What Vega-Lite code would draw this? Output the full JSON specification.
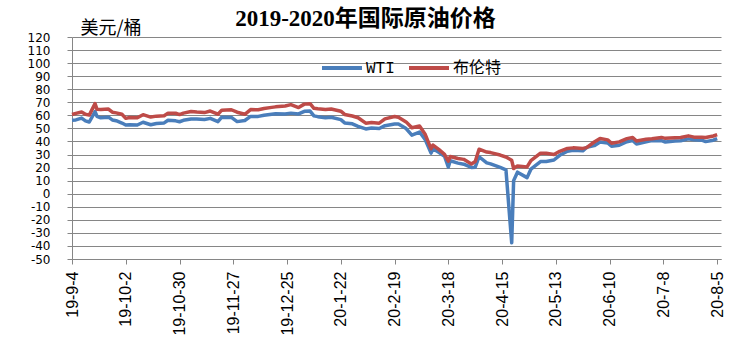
{
  "$schema": "https://vega.github.io/schema/vega-lite/v6.json",
  "autosize": {"type": "none"},
  "width": 649,
  "height": 222,
  "padding": {"left": 72, "top": 37, "right": 20, "bottom": 90},
  "background": "white",
  "title": {
    "text": "2019-2020年国际原油价格",
    "anchor": "middle",
    "dx": -31,
    "font": "Liberation Serif, Noto Sans CJK SC",
    "fontSize": 23,
    "fontWeight": "bold",
    "color": "#000000",
    "baseline": "alphabetic",
    "offset": -30
  },
  "config": {
    "view": {"stroke": null},
    "axis": {"domainColor": "#868686", "tickColor": "#868686", "gridColor": "#868686", "labelColor": "#000000"}
  },
  "data": {
    "values": [
      {"d":"2019-09-04","s":"WTI","p":56.3},{"d":"2019-09-04","s":"布伦特","p":60.7},
      {"d":"2019-09-06","s":"WTI","p":56.5},{"d":"2019-09-06","s":"布伦特","p":61.5},
      {"d":"2019-09-09","s":"WTI","p":57.9},{"d":"2019-09-09","s":"布伦特","p":62.6},
      {"d":"2019-09-11","s":"WTI","p":55.8},{"d":"2019-09-11","s":"布伦特","p":60.8},
      {"d":"2019-09-13","s":"WTI","p":54.9},{"d":"2019-09-13","s":"布伦特","p":60.2},
      {"d":"2019-09-16","s":"WTI","p":62.9},{"d":"2019-09-16","s":"布伦特","p":69.0},
      {"d":"2019-09-17","s":"WTI","p":59.3},{"d":"2019-09-17","s":"布伦特","p":64.6},
      {"d":"2019-09-19","s":"WTI","p":58.1},{"d":"2019-09-19","s":"布伦特","p":64.4},
      {"d":"2019-09-23","s":"WTI","p":58.6},{"d":"2019-09-23","s":"布伦特","p":64.8},
      {"d":"2019-09-25","s":"WTI","p":56.5},{"d":"2019-09-25","s":"布伦特","p":62.4},
      {"d":"2019-09-27","s":"WTI","p":55.9},{"d":"2019-09-27","s":"布伦特","p":61.9},
      {"d":"2019-09-30","s":"WTI","p":54.1},{"d":"2019-09-30","s":"布伦特","p":60.8},
      {"d":"2019-10-02","s":"WTI","p":52.6},{"d":"2019-10-02","s":"布伦特","p":57.7},
      {"d":"2019-10-04","s":"WTI","p":52.8},{"d":"2019-10-04","s":"布伦特","p":58.4},
      {"d":"2019-10-08","s":"WTI","p":52.6},{"d":"2019-10-08","s":"布伦特","p":58.2},
      {"d":"2019-10-11","s":"WTI","p":54.7},{"d":"2019-10-11","s":"布伦特","p":60.5},
      {"d":"2019-10-15","s":"WTI","p":52.8},{"d":"2019-10-15","s":"布伦特","p":58.7},
      {"d":"2019-10-18","s":"WTI","p":53.8},{"d":"2019-10-18","s":"布伦特","p":59.4},
      {"d":"2019-10-22","s":"WTI","p":54.2},{"d":"2019-10-22","s":"布伦特","p":59.7},
      {"d":"2019-10-24","s":"WTI","p":56.2},{"d":"2019-10-24","s":"布伦特","p":61.7},
      {"d":"2019-10-28","s":"WTI","p":55.8},{"d":"2019-10-28","s":"布伦特","p":61.6},
      {"d":"2019-10-30","s":"WTI","p":55.1},{"d":"2019-10-30","s":"布伦特","p":60.6},
      {"d":"2019-11-01","s":"WTI","p":56.2},{"d":"2019-11-01","s":"布伦特","p":61.7},
      {"d":"2019-11-05","s":"WTI","p":57.2},{"d":"2019-11-05","s":"布伦特","p":63.0},
      {"d":"2019-11-08","s":"WTI","p":57.2},{"d":"2019-11-08","s":"布伦特","p":62.5},
      {"d":"2019-11-12","s":"WTI","p":56.8},{"d":"2019-11-12","s":"布伦特","p":62.1},
      {"d":"2019-11-15","s":"WTI","p":57.7},{"d":"2019-11-15","s":"布伦特","p":63.3},
      {"d":"2019-11-19","s":"WTI","p":55.2},{"d":"2019-11-19","s":"布伦特","p":60.9},
      {"d":"2019-11-21","s":"WTI","p":58.6},{"d":"2019-11-21","s":"布伦特","p":64.0},
      {"d":"2019-11-26","s":"WTI","p":58.4},{"d":"2019-11-26","s":"布伦特","p":64.3},
      {"d":"2019-11-29","s":"WTI","p":55.2},{"d":"2019-11-29","s":"布伦特","p":62.4},
      {"d":"2019-12-03","s":"WTI","p":56.1},{"d":"2019-12-03","s":"布伦特","p":60.8},
      {"d":"2019-12-06","s":"WTI","p":59.2},{"d":"2019-12-06","s":"布伦特","p":64.4},
      {"d":"2019-12-10","s":"WTI","p":59.2},{"d":"2019-12-10","s":"布伦特","p":64.3},
      {"d":"2019-12-13","s":"WTI","p":60.1},{"d":"2019-12-13","s":"布伦特","p":65.2},
      {"d":"2019-12-17","s":"WTI","p":60.9},{"d":"2019-12-17","s":"布伦特","p":66.1},
      {"d":"2019-12-19","s":"WTI","p":61.2},{"d":"2019-12-19","s":"布伦特","p":66.5},
      {"d":"2019-12-24","s":"WTI","p":61.1},{"d":"2019-12-24","s":"布伦特","p":67.2},
      {"d":"2019-12-27","s":"WTI","p":61.7},{"d":"2019-12-27","s":"布伦特","p":68.2},
      {"d":"2019-12-31","s":"WTI","p":61.1},{"d":"2019-12-31","s":"布伦特","p":66.0},
      {"d":"2020-01-03","s":"WTI","p":63.1},{"d":"2020-01-03","s":"布伦特","p":68.6},
      {"d":"2020-01-06","s":"WTI","p":63.3},{"d":"2020-01-06","s":"布伦特","p":68.9},
      {"d":"2020-01-08","s":"WTI","p":59.6},{"d":"2020-01-08","s":"布伦特","p":65.4},
      {"d":"2020-01-10","s":"WTI","p":59.0},{"d":"2020-01-10","s":"布伦特","p":65.0},
      {"d":"2020-01-14","s":"WTI","p":58.2},{"d":"2020-01-14","s":"布伦特","p":64.5},
      {"d":"2020-01-17","s":"WTI","p":58.5},{"d":"2020-01-17","s":"布伦特","p":64.9},
      {"d":"2020-01-22","s":"WTI","p":56.7},{"d":"2020-01-22","s":"布伦特","p":63.2},
      {"d":"2020-01-24","s":"WTI","p":54.2},{"d":"2020-01-24","s":"布伦特","p":60.7},
      {"d":"2020-01-28","s":"WTI","p":53.5},{"d":"2020-01-28","s":"布伦特","p":59.5},
      {"d":"2020-01-31","s":"WTI","p":51.6},{"d":"2020-01-31","s":"布伦特","p":58.2},
      {"d":"2020-02-04","s":"WTI","p":49.6},{"d":"2020-02-04","s":"布伦特","p":54.0},
      {"d":"2020-02-07","s":"WTI","p":50.3},{"d":"2020-02-07","s":"布伦特","p":54.5},
      {"d":"2020-02-11","s":"WTI","p":49.9},{"d":"2020-02-11","s":"布伦特","p":54.0},
      {"d":"2020-02-14","s":"WTI","p":52.1},{"d":"2020-02-14","s":"布伦特","p":57.3},
      {"d":"2020-02-19","s":"WTI","p":53.3},{"d":"2020-02-19","s":"布伦特","p":59.1},
      {"d":"2020-02-21","s":"WTI","p":53.4},{"d":"2020-02-21","s":"布伦特","p":58.5},
      {"d":"2020-02-25","s":"WTI","p":49.9},{"d":"2020-02-25","s":"布伦特","p":55.0},
      {"d":"2020-02-28","s":"WTI","p":44.8},{"d":"2020-02-28","s":"布伦特","p":50.5},
      {"d":"2020-03-03","s":"WTI","p":47.2},{"d":"2020-03-03","s":"布伦特","p":51.9},
      {"d":"2020-03-06","s":"WTI","p":41.3},{"d":"2020-03-06","s":"布伦特","p":45.3},
      {"d":"2020-03-09","s":"WTI","p":31.1},{"d":"2020-03-09","s":"布伦特","p":34.4},
      {"d":"2020-03-10","s":"WTI","p":34.4},{"d":"2020-03-10","s":"布伦特","p":37.2},
      {"d":"2020-03-13","s":"WTI","p":31.7},{"d":"2020-03-13","s":"布伦特","p":33.9},
      {"d":"2020-03-16","s":"WTI","p":28.7},{"d":"2020-03-16","s":"布伦特","p":30.1},
      {"d":"2020-03-18","s":"WTI","p":20.4},{"d":"2020-03-18","s":"布伦特","p":24.9},
      {"d":"2020-03-19","s":"WTI","p":25.2},{"d":"2020-03-19","s":"布伦特","p":28.5},
      {"d":"2020-03-23","s":"WTI","p":23.4},{"d":"2020-03-23","s":"布伦特","p":27.0},
      {"d":"2020-03-26","s":"WTI","p":22.6},{"d":"2020-03-26","s":"布伦特","p":26.3},
      {"d":"2020-03-30","s":"WTI","p":20.1},{"d":"2020-03-30","s":"布伦特","p":22.8},
      {"d":"2020-04-01","s":"WTI","p":20.3},{"d":"2020-04-01","s":"布伦特","p":24.7},
      {"d":"2020-04-03","s":"WTI","p":28.3},{"d":"2020-04-03","s":"布伦特","p":34.1},
      {"d":"2020-04-07","s":"WTI","p":23.6},{"d":"2020-04-07","s":"布伦特","p":31.9},
      {"d":"2020-04-09","s":"WTI","p":22.8},{"d":"2020-04-09","s":"布伦特","p":31.5},
      {"d":"2020-04-14","s":"WTI","p":20.1},{"d":"2020-04-14","s":"布伦特","p":29.6},
      {"d":"2020-04-17","s":"WTI","p":18.3},{"d":"2020-04-17","s":"布伦特","p":28.1},
      {"d":"2020-04-20","s":"WTI","p":-37.6},{"d":"2020-04-20","s":"布伦特","p":25.6},
      {"d":"2020-04-21","s":"WTI","p":10.0},{"d":"2020-04-21","s":"布伦特","p":19.3},
      {"d":"2020-04-23","s":"WTI","p":16.5},{"d":"2020-04-23","s":"布伦特","p":21.3},
      {"d":"2020-04-28","s":"WTI","p":12.3},{"d":"2020-04-28","s":"布伦特","p":20.5},
      {"d":"2020-04-30","s":"WTI","p":18.8},{"d":"2020-04-30","s":"布伦特","p":25.3},
      {"d":"2020-05-05","s":"WTI","p":24.6},{"d":"2020-05-05","s":"布伦特","p":31.0},
      {"d":"2020-05-08","s":"WTI","p":24.7},{"d":"2020-05-08","s":"布伦特","p":31.0},
      {"d":"2020-05-12","s":"WTI","p":25.8},{"d":"2020-05-12","s":"布伦特","p":30.0},
      {"d":"2020-05-15","s":"WTI","p":29.4},{"d":"2020-05-15","s":"布伦特","p":32.5},
      {"d":"2020-05-19","s":"WTI","p":32.5},{"d":"2020-05-19","s":"布伦特","p":34.7},
      {"d":"2020-05-22","s":"WTI","p":33.3},{"d":"2020-05-22","s":"布伦特","p":35.1},
      {"d":"2020-05-27","s":"WTI","p":32.8},{"d":"2020-05-27","s":"布伦特","p":34.7},
      {"d":"2020-05-29","s":"WTI","p":35.5},{"d":"2020-05-29","s":"布伦特","p":35.3},
      {"d":"2020-06-02","s":"WTI","p":36.8},{"d":"2020-06-02","s":"布伦特","p":39.6},
      {"d":"2020-06-05","s":"WTI","p":39.6},{"d":"2020-06-05","s":"布伦特","p":42.3},
      {"d":"2020-06-09","s":"WTI","p":38.9},{"d":"2020-06-09","s":"布伦特","p":41.2},
      {"d":"2020-06-11","s":"WTI","p":36.3},{"d":"2020-06-11","s":"布伦特","p":38.6},
      {"d":"2020-06-15","s":"WTI","p":37.1},{"d":"2020-06-15","s":"布伦特","p":39.7},
      {"d":"2020-06-19","s":"WTI","p":39.8},{"d":"2020-06-19","s":"布伦特","p":42.2},
      {"d":"2020-06-22","s":"WTI","p":40.7},{"d":"2020-06-22","s":"布伦特","p":43.1},
      {"d":"2020-06-24","s":"WTI","p":38.0},{"d":"2020-06-24","s":"布伦特","p":40.3},
      {"d":"2020-06-29","s":"WTI","p":39.7},{"d":"2020-06-29","s":"布伦特","p":41.7},
      {"d":"2020-07-02","s":"WTI","p":40.7},{"d":"2020-07-02","s":"布伦特","p":42.1},
      {"d":"2020-07-07","s":"WTI","p":40.6},{"d":"2020-07-07","s":"布伦特","p":43.1},
      {"d":"2020-07-09","s":"WTI","p":39.6},{"d":"2020-07-09","s":"布伦特","p":42.4},
      {"d":"2020-07-14","s":"WTI","p":40.3},{"d":"2020-07-14","s":"布伦特","p":42.9},
      {"d":"2020-07-17","s":"WTI","p":40.6},{"d":"2020-07-17","s":"布伦特","p":43.1},
      {"d":"2020-07-21","s":"WTI","p":42.0},{"d":"2020-07-21","s":"布伦特","p":44.3},
      {"d":"2020-07-24","s":"WTI","p":41.3},{"d":"2020-07-24","s":"布伦特","p":43.3},
      {"d":"2020-07-28","s":"WTI","p":41.0},{"d":"2020-07-28","s":"布伦特","p":43.2},
      {"d":"2020-07-30","s":"WTI","p":39.9},{"d":"2020-07-30","s":"布伦特","p":43.0},
      {"d":"2020-08-03","s":"WTI","p":41.0},{"d":"2020-08-03","s":"布伦特","p":44.2},
      {"d":"2020-08-05","s":"WTI","p":42.2},{"d":"2020-08-05","s":"布伦特","p":45.2}
    ]
  },
  "mark": {"type": "line", "strokeWidth": 3.5, "strokeJoin": "round", "clip": false},
  "encoding": {
    "x": {
      "field": "d",
      "type": "temporal",
      "scale": {
        "type": "utc",
        "domain": [{"year": 2019, "month": 9, "date": 4, "utc": true}, {"year": 2020, "month": 8, "date": 7, "utc": true}],
        "nice": false
      },
      "axis": {
        "title": null,
        "grid": false,
        "values": [
          {"year": 2019, "month": 9, "date": 4, "utc": true},
          {"year": 2019, "month": 10, "date": 2, "utc": true},
          {"year": 2019, "month": 10, "date": 30, "utc": true},
          {"year": 2019, "month": 11, "date": 27, "utc": true},
          {"year": 2019, "month": 12, "date": 25, "utc": true},
          {"year": 2020, "month": 1, "date": 22, "utc": true},
          {"year": 2020, "month": 2, "date": 19, "utc": true},
          {"year": 2020, "month": 3, "date": 18, "utc": true},
          {"year": 2020, "month": 4, "date": 15, "utc": true},
          {"year": 2020, "month": 5, "date": 13, "utc": true},
          {"year": 2020, "month": 6, "date": 10, "utc": true},
          {"year": 2020, "month": 7, "date": 8, "utc": true},
          {"year": 2020, "month": 8, "date": 5, "utc": true}
        ],
        "labelExpr": "utcFormat(datum.value, '%y-%-m-%-d')",
        "labelAngle": -90,
        "labelFont": "Liberation Sans",
        "labelFontSize": 16,
        "labelOverlap": false,
        "labelFlush": false,
        "tickSize": 5,
        "labelPadding": 7,
        "domainColor": "#868686"
      }
    },
    "y": {
      "field": "p",
      "type": "quantitative",
      "scale": {"domain": [-50, 120], "nice": false, "zero": false},
      "axis": {
        "values": [-50, -40, -30, -20, -10, 0, 10, 20, 30, 40, 50, 60, 70, 80, 90, 100, 110, 120],
        "labelExpr": "'' + datum.value",
        "labelFont": "DejaVu Sans",
        "labelFontSize": 12,
        "labelOverlap": false,
        "labelFlush": false,
        "tickSize": 5,
        "labelPadding": 17,
        "grid": true,
        "gridColor": "#868686",
        "gridWidth": 1,
        "title": "美元/桶",
        "titleAngle": 0,
        "titleAlign": "left",
        "titleBaseline": "middle",
        "titleX": 8,
        "titleY": -9,
        "titleFont": "Noto Sans CJK SC",
        "titleFontSize": 18,
        "titleFontWeight": "normal",
        "titleColor": "#000000"
      }
    },
    "color": {
      "field": "s",
      "type": "nominal",
      "scale": {"domain": ["WTI", "布伦特"], "range": ["#4A7EBB", "#BE4B48"]},
      "legend": {
        "title": null,
        "orient": "none",
        "direction": "horizontal",
        "legendX": 248,
        "legendY": 9,
        "symbolType": "stroke",
        "symbolSize": 1600,
        "symbolStrokeWidth": 4,
        "labelFont": "Liberation Mono, Noto Sans CJK SC",
        "labelFontSize": 16,
        "labelColor": "#000000",
        "labelOffset": 2,
        "columnPadding": 6
      }
    }
  }
}
